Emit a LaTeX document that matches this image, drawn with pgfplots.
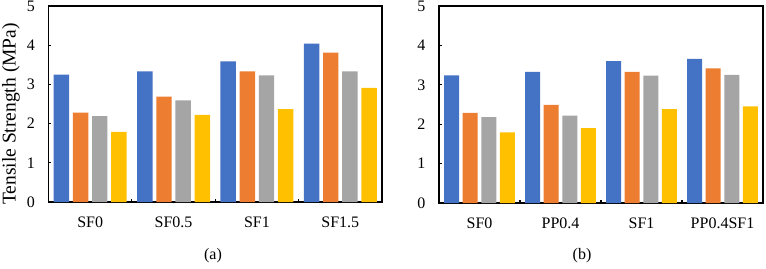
\documentclass[border=0pt]{standalone}
\usepackage{fontspec}
\setmainfont{Liberation Serif}
\usepackage{pgfplots}
\pgfplotsset{compat=1.18}
\definecolor{cblue}{HTML}{4472C4}
\definecolor{corange}{HTML}{ED7D31}
\definecolor{cgray}{HTML}{A5A5A5}
\definecolor{cyellow}{HTML}{FFC000}
\pgfplotsset{mybar/.style={
  scale only axis, ybar,
  ymin=0, ymax=5, ytick={0,1,2,3,4,5},
  xmin=-0.5, xmax=3.5, xtick={0,1,2,3},
  minor xtick={0.5,1.5,2.5},
  major x tick style={draw=none},
  xtick pos=bottom, ytick pos=left, tick align=inside,
  major tick length=3pt, minor tick length=3pt,
  bar width=0.185,
  axis line style={line width=1.1pt},
  tick style={line width=1.1pt, black},
  ticklabel style={font=\fontsize{16}{16}\selectfont},
  /pgf/number format/assume math mode=true,
  yticklabel style={xshift=-10pt},
  xticklabel style={anchor=center, yshift=-20.5pt},
  every axis plot/.append style={draw=none},
}}
\begin{document}
\begin{tikzpicture}[x=1pt,y=1pt]
\useasboundingbox (0,0) rectangle (766,268);
\begin{axis}[mybar, at={(48.5pt,66pt)}, anchor=south west,
  width=333.5pt, height=196pt,
  xticklabels={SF0,SF0.5,SF1,SF1.5},
  ylabel={Tensile Strength (MPa)},
  ylabel style={at={(axis description cs:-0.1124,0.449)}, anchor=center, font=\fontsize{19.5}{19.5}\selectfont}]
\addplot[fill=cblue, bar shift=-0.345] coordinates {(0,3.25) (1,3.33) (2,3.59) (3,4.04)};
\addplot[fill=corange, bar shift=-0.115] coordinates {(0,2.28) (1,2.69) (2,3.33) (3,3.81)};
\addplot[fill=cgray, bar shift=0.115] coordinates {(0,2.19) (1,2.59) (2,3.23) (3,3.33)};
\addplot[fill=cyellow, bar shift=0.345] coordinates {(0,1.79) (1,2.22) (2,2.37) (3,2.91)};
\end{axis}
\begin{axis}[mybar, at={(439pt,65pt)}, anchor=south west,
  width=324pt, height=197pt,
  xticklabels={SF0,PP0.4,SF1,PP0.4SF1}]
\addplot[fill=cblue, bar shift=-0.345] coordinates {(0,3.24) (1,3.33) (2,3.60) (3,3.66)};
\addplot[fill=corange, bar shift=-0.115] coordinates {(0,2.29) (1,2.49) (2,3.33) (3,3.42)};
\addplot[fill=cgray, bar shift=0.115] coordinates {(0,2.18) (1,2.22) (2,3.23) (3,3.25)};
\addplot[fill=cyellow, bar shift=0.345] coordinates {(0,1.79) (1,1.90) (2,2.38) (3,2.45)};
\end{axis}
\node[font=\fontsize{16}{16}\selectfont] at (213,12) {(a)};
\node[font=\fontsize{16}{16}\selectfont] at (582,12) {(b)};
\end{tikzpicture}
\end{document}
